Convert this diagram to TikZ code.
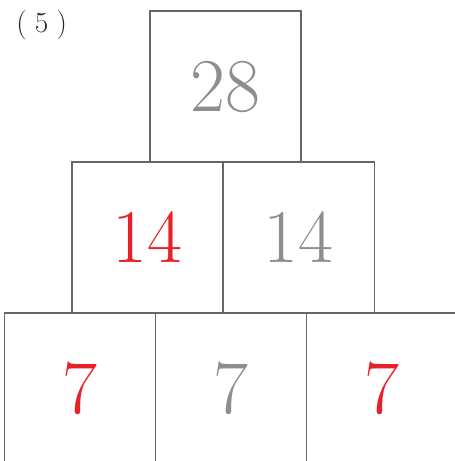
\documentclass[tikz,border=0pt]{standalone}
\usepackage{xcolor}
\usepackage{tikz}
\usetikzlibrary{positioning}
\definecolor{frame}{HTML}{666666}
\definecolor{hot}{HTML}{E8202A}
\definecolor{dim}{HTML}{8E8E8E}

\begin{document}
\begin{tikzpicture}[x=0.75pt,y=-0.75pt,
  cell/.style={draw=frame,line width=0.95pt,minimum size=113.4pt,inner sep=0pt,
               outer sep=0pt,font=\fontsize{57}{57}\selectfont},
  red/.style={cell,text=hot},
  grey/.style={cell,text=dim},
  node distance=0pt
]
\useasboundingbox (0,0) rectangle (454,461);
\node[font=\fontsize{22}{22}\selectfont,text=black!85] (tag) at (41.7,25) {(\;5\;)};
% top row
\node[grey] (t) at (225.5,86.5) {28};
% middle row
\node[red] (m1) at (147.5,237.5) {14};
\node[grey,right=of m1] (m2) {14};
% bottom row
\node[red] (b1) at (80,388.5) {7};
\node[grey,right=of b1] (b2) {7};
\node[red,right=of b2] (b3) {7};
\end{tikzpicture}
\end{document}
